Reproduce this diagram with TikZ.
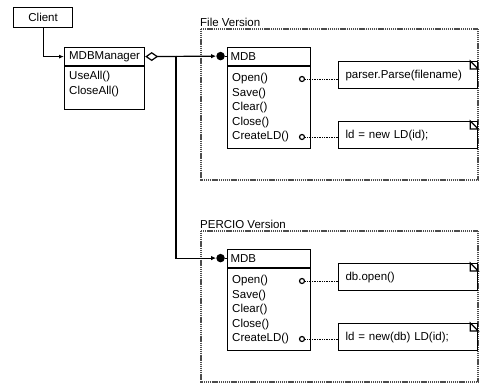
\documentclass[tikz,border=0pt]{standalone}
\usepackage{fontspec}
\setmainfont{Liberation Sans}
\usetikzlibrary{arrows.meta}

\tikzset{
  classbox/.style={draw,line width=1.2pt,anchor=north west,inner sep=0pt},
  classhead/.style={classbox,minimum height=18pt,inner xsep=3pt,align=left},
  method/.style={anchor=west,inner sep=0pt},
  hook/.style={circle,draw,line width=1.2pt,fill=white,inner sep=0pt,minimum size=5pt},
  knob/.style={circle,fill,inner sep=0pt,minimum size=8.5pt,anchor=east},
  notebox/.style={draw,line width=1.2pt,anchor=north west,minimum height=27pt,
    text width=125pt,inner xsep=7pt,align=left},
  region/.style={draw=black!70,line width=2pt,dash pattern=on 1.2pt off 0.7pt},
  link/.style={line width=0.7pt,densely dotted},
  owns/.style={line width=1.2pt,-{Latex[length=5pt,width=4.5pt]}}
}

\begin{document}
\begin{tikzpicture}[x=1pt,y=-1pt,every node/.style={font=\fontsize{11.5}{13}\selectfont}]
\useasboundingbox (0,0) rectangle (482,384);

\node[classbox,minimum width=59pt,minimum height=20pt] (client) at (13,7) {Client};
\node[classhead,text width=74pt,align=center] (mgr) at (64,47) {MDBManager};
\node[classbox,minimum width=80pt,minimum height=43pt] (mgrbody) at (mgr.south west) {};
\node[method] (useall) at (69,77) {UseAll()};
\node[method] (closeall) at (69,92) {CloseAll()};
\draw[line width=1.2pt,-{Latex[length=5pt,width=4pt]}] (client) |- (mgr.west);

\foreach \t/\dy/\ver/\noteA/\noteB in {
    f/0/{File Version}/{parser.Parse(filename)}/{ld = new LD(id);},
    p/202/{PERCIO Version}/{db.open()}/{ld = new(db) LD(id);}}
{
  \begin{scope}[shift={(0,\dy)}]
    \draw[region] (201,29) rectangle (478,180);
    \node[anchor=south west,inner sep=1pt] (lbl\t) at (199,28) {\ver};
    \node[classhead,text width=77pt] (mdb\t) at (227,46.5) {MDB};
    \node[classbox,minimum width=83pt,minimum height=82.5pt] (body\t) at (mdb\t.south west) {};
    \node[knob] (dot\t) at ([xshift=-2pt]mdb\t.west) {};
    \draw[line width=1.2pt] (dot\t) -- (mdb\t.west);
    \foreach \m [count=\i] in {Open(),Save(),Clear(),Close(),CreateLD()}
      \node[method] (op\t\i) at (232,{64.5+14.5*\i}) {\m};
    \node[hook] (hkA\t) at (302,79) {};
    \node[hook] (hkB\t) at (302,137) {};
    \node[notebox] (nA\t) at (338,61) {\noteA};
    \node[notebox] (nB\t) at (338,121) {\noteB};
    \draw[link] (hkA\t) -- (hkA\t -| nA\t.west);
    \draw[link] (hkB\t) -- (hkB\t -| nB\t.west);
    \draw[line width=1.2pt] ([xshift=-8pt]nA\t.north east) -- ++(0,8) -- ++(8,0) -- cycle;
    \draw[line width=1.2pt] ([xshift=-8pt]nB\t.north east) -- ++(0,8) -- ++(8,0) -- cycle;
  \end{scope}
}

\coordinate (split) at (176,55.5);
\draw[owns,{Diamond[open,length=13pt,width=9pt]}-{Latex[length=5pt,width=4.5pt]}] (mgr.east) -- (dotf);
\draw[owns] (split) |- (dotp);
\end{tikzpicture}
\end{document}
